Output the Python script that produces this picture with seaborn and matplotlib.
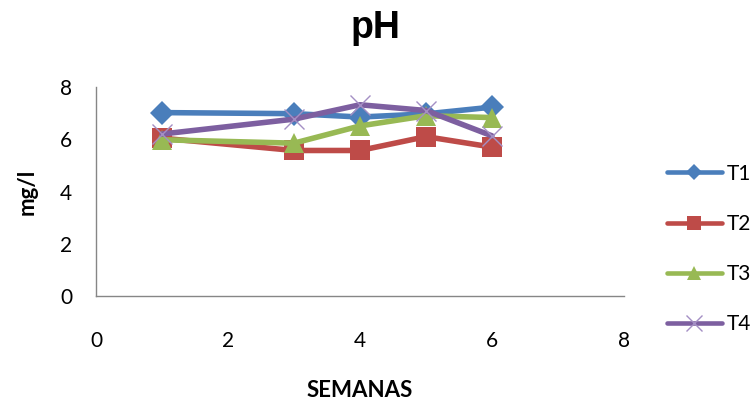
import matplotlib
matplotlib.use("Agg")
import matplotlib.pyplot as plt
import seaborn as sns
import pandas as pd
from matplotlib.lines import Line2D

semanas = [1, 3, 4, 5, 6]
t1 = [7.02, 6.98, 6.85, 6.97, 7.23]
t2 = [6.04, 5.57, 5.57, 6.10, 5.70]
t3 = [5.98, 5.85, 6.51, 6.90, 6.83]
t4 = [6.20, 6.77, 7.32, 7.10, 6.13]
series_names = ["T1", "T2", "T3", "T4"]
x_ticks = [0, 2, 4, 6, 8]
y_ticks = [0, 2, 4, 6, 8]

sns.set_style("white")
plt.rcParams["font.family"] = ["Lato", "DejaVu Sans"]
plt.rcParams["text.color"] = "black"
plt.rcParams["axes.labelcolor"] = "black"

fig = plt.figure(figsize=(7.53, 4.03), dpi=100)
ax = fig.add_axes([96 / 753, 1 - 296 / 403, (624 - 96) / 753, (296 - 87) / 403])

palette = {"T1": "#4A7EBB", "T2": "#BE4B48", "T3": "#98B954", "T4": "#7D5FA0"}
markers = {"T1": "D", "T2": "s", "T3": "^", "T4": "x"}
msizes = {"T1": 12, "T2": 14, "T3": 14, "T4": 15}
leg_msizes = {"T1": 8.5, "T2": 9.5, "T3": 9.5, "T4": 11}

def mstyle(name):
    if markers[name] == "x":
        return dict(markeredgewidth=1.0, markeredgecolor="#A48FC4")
    return dict(markeredgewidth=0)

for name, vals in zip(series_names, [t1, t2, t3, t4]):
    d = pd.DataFrame({"SEMANAS": semanas, "valor": vals})
    sns.lineplot(data=d, x="SEMANAS", y="valor", color=palette[name],
                 marker=markers[name], markersize=msizes[name], linewidth=4.0,
                 ax=ax, legend=False, **mstyle(name))

ax.set_xlim(0, 8)
ax.set_ylim(0, 8)
ax.set_xticks(x_ticks)
ax.set_yticks(y_ticks)
ax.tick_params(axis="both", length=0, labelsize=15, colors="#000000")
ax.tick_params(axis="x", pad=25)
ax.tick_params(axis="y", pad=17)
for sp in ["top", "right"]:
    ax.spines[sp].set_visible(False)
for sp in ["left", "bottom"]:
    ax.spines[sp].set_color("#868686")
    ax.spines[sp].set_linewidth(1.0)

ax.set_xlabel("SEMANAS", fontsize=16, fontweight="bold", labelpad=21)
ax.set_ylabel("mg/l", fontsize=16, fontweight="bold", labelpad=16)
fig.text(375 / 753, 1 - 28 / 403, "pH", ha="center", va="center",
         fontsize=27, fontweight="bold", family="Liberation Sans", color="black")

handles = []
for name in series_names:
    handles.append(Line2D([], [], color=palette[name], lw=3.3, marker=markers[name],
                          markersize=leg_msizes[name], **mstyle(name)))
fig.legend(handles, series_names, loc="center left",
           bbox_to_anchor=(648 / 753, 1 - 249 / 403), frameon=False,
           fontsize=15, labelspacing=1.45, handlelength=2.65, handletextpad=0.25)

fig.savefig("out.png", dpi=100)
